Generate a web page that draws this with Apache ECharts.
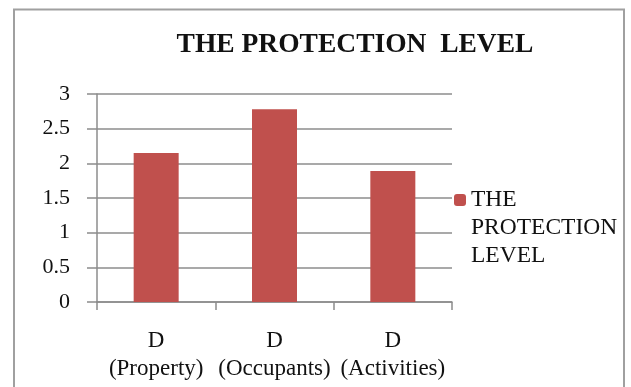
<!DOCTYPE html>
<html>
<head>
<meta charset="utf-8">
<script src="https://cdn.jsdelivr.net/npm/echarts@6/dist/echarts.min.js"></script>
<style>
  html, body { margin: 0; padding: 0; background: #fff; }
  #chart { width: 631px; height: 387px; }
</style>
</head>
<body>
<div id="chart"></div>
<script>
const categories = ['D\n(Property)', 'D\n(Occupants)', 'D\n(Activities)']
const protectionLevel = [2.15, 2.78, 1.89]
const seriesName = 'THE\nPROTECTION\nLEVEL'
const titleText = 'THE PROTECTION  LEVEL'

const serif = '"Liberation Serif", "DejaVu Serif", serif'
const gridColor = '#8c8c8c'

const chart = echarts.init(document.getElementById('chart'))

chart.setOption({
  animation: false,
  title: {
    text: titleText,
    left: 350,
    top: 26,
    textAlign: 'center',
    textStyle: { fontFamily: serif, fontSize: 27.5, fontWeight: 'bold', color: '#111' }
  },
  legend: {
    data: [seriesName],
    orient: 'vertical',
    left: 454,
    top: 130,
    padding: 0,
    itemWidth: 12,
    itemHeight: 12,
    // push first line level with the icon
    formatter: name => '\n\n' + name,
    textStyle: {
      fontFamily: serif,
      fontSize: 23.5,
      lineHeight: 28,
      color: '#111'
    }
  },
  grid: {
    left: 97,
    right: 179,
    top: 94,
    bottom: 85,
    containLabel: false
  },
  // chart frame
  graphic: [{
    type: 'rect',
    shape: { x: 14, y: 9.5, width: 610, height: 420 },
    style: { fill: 'none', stroke: '#a0a0a0', lineWidth: 2 },
    silent: true
  }],
  xAxis: {
    type: 'category',
    data: categories,
    axisLine: { lineStyle: { color: gridColor, width: 1.5 } },
    axisTick: { show: true, length: 8, lineStyle: { color: gridColor, width: 1.5 } },
    axisLabel: {
      interval: 0,
      margin: 25,
      fontFamily: serif,
      fontSize: 23,
      lineHeight: 28,
      color: '#111'
    }
  },
  yAxis: {
    type: 'value',
    min: 0,
    max: 3,
    interval: 0.5,
    axisLine: { show: true, lineStyle: { color: gridColor, width: 1.5 } },
    axisTick: { show: true, length: 10, lineStyle: { color: gridColor, width: 1.5 } },
    splitLine: { lineStyle: { color: gridColor, width: 1.5 } },
    axisLabel: {
      margin: 27,
      fontFamily: serif,
      fontSize: 22,
      color: '#111'
    }
  },
  series: [{
    name: seriesName,
    type: 'bar',
    barWidth: 45,
    data: protectionLevel,
    itemStyle: { color: '#C0504D' }
  }]
})
</script>
</body>
</html>
